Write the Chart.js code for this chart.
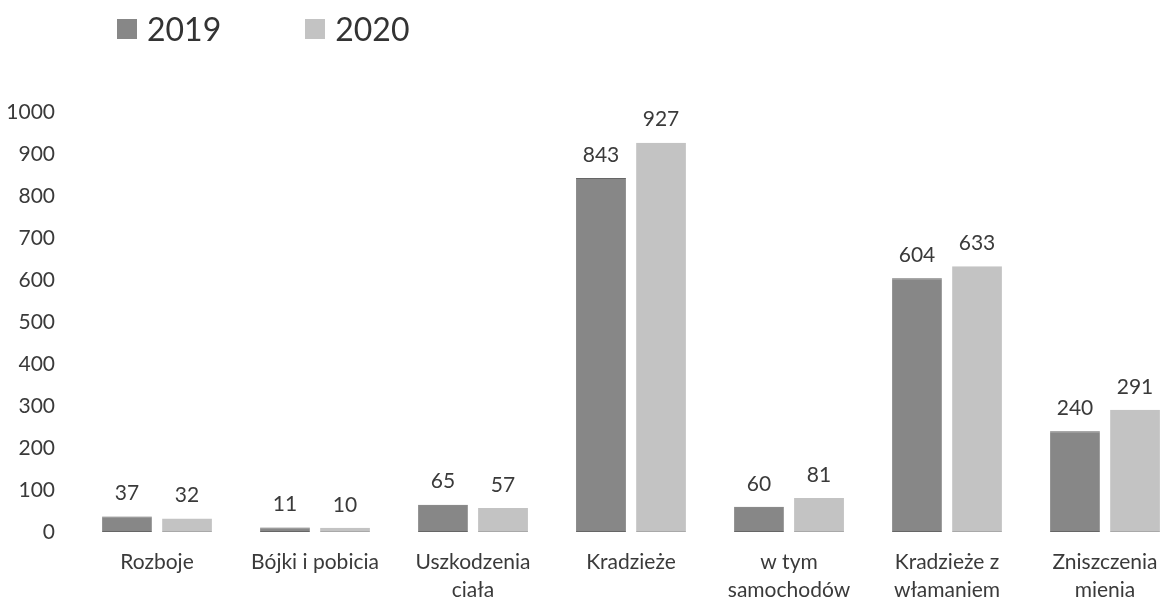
<!DOCTYPE html>
<html>
<head>
<meta charset="utf-8">
<script src="https://cdn.jsdelivr.net/npm/chart.js@4/dist/chart.umd.min.js"></script>
<style>
  html, body { margin: 0; padding: 0; background: #fff; overflow: hidden; }
  #wrap { position: relative; width: 1190px; height: 603px; }
  #legend { position: absolute; left: 117px; top: 9px; display: flex; font-family: Lato, "Open Sans", sans-serif; font-size: 32px; color: #333; }
  #legend .item { display: flex; align-items: center; margin-right: 84px; }
  #legend .box { width: 20px; height: 20px; margin-right: 10px; }
</style>
</head>
<body>
<div id="wrap">
  <div id="legend"></div>
  <canvas id="chart" width="1190" height="603"></canvas>
</div>
<script>
// DATA
const categories = [
	"Rozboje",
	"Bójki i pobicia",
	["Uszkodzenia", "ciała"],
	"Kradzieże",
	["w tym", "samochodów"],
	["Kradzieże z", "włamaniem"],
	["Zniszczenia", "mienia"]
];
const series_labels = ["2019", "2020"];
const values_2019 = [37, 11, 65, 843, 60, 604, 240];
const values_2020 = [32, 10, 57, 927, 81, 633, 291];
const y_ticks = [0, 100, 200, 300, 400, 500, 600, 700, 800, 900, 1000];

const FONT = 'Lato, "Open Sans", sans-serif';
const TEXT = '#3a3a3a';

// VALUE LABELS ABOVE BARS
const valueLabels = {
	id: 'valueLabels',
	afterDatasetsDraw(chart){
		const ctx = chart.ctx;
		ctx.save();
		ctx.font = '21px ' + FONT;
		ctx.fillStyle = TEXT;
		ctx.textAlign = 'center';
		ctx.textBaseline = 'middle';
		chart.data.datasets.forEach((ds, i) => {
			chart.getDatasetMeta(i).data.forEach((bar, j) => {
				ctx.fillText(ds.data[j], bar.x, bar.y - 23);
			});
		});
		ctx.restore();
	}
};

const ctx = document.getElementById("chart").getContext("2d");

const my_chart = new Chart(ctx, {
	type: 'bar',
	data: {
		labels: categories,
		datasets: [{
			label: series_labels[0],
			data: values_2019,
			backgroundColor: '#878787',
			borderColor: '#666',
			borderWidth: {top: 1, bottom: 1},
			borderSkipped: false
		},{
			label: series_labels[1],
			data: values_2020,
			backgroundColor: '#c3c3c3',
			borderColor: '#a9a9a9',
			borderWidth: {top: 0, bottom: 1},
			borderSkipped: false
		}]
	},
	options: {
		responsive: false,
		animation: false,
		categoryPercentage: 0.76,
		barPercentage: 0.83,
		layout: { padding: { top: 112, right: 6, left: 0, bottom: 0 } },
		plugins: {
			legend: { display: false },
			tooltip: { enabled: false }
		},
		scales: {
			x: {
				grid: { display: false, drawTicks: false },
				border: { display: false },
				ticks: { color: TEXT, font: { family: FONT, size: 21, lineHeight: 1.3 }, padding: 17, maxRotation: 0, autoSkip: false },
				afterFit(scale){ scale.height = 71; }
			},
			y: {
				min: 0,
				max: 1000,
				grid: { display: false, drawTicks: false },
				border: { display: false },
				afterBuildTicks(scale){ scale.ticks = y_ticks.map(v => ({ value: v })); },
				ticks: { color: TEXT, font: { family: FONT, size: 21 }, padding: 23, callback: v => String(v) },
				afterFit(scale){ scale.width = 78; }
			}
		}
	},
	plugins: [valueLabels]
});

// LEGEND (built from the chart's own legend items)
const legend_el = document.getElementById("legend");
Chart.defaults.plugins.legend.labels.generateLabels(my_chart).forEach(item => {
	const div = document.createElement("div");
	div.className = "item";
	div.innerHTML = `<span class="box" style="background:${item.fillStyle}"></span><span>${item.text}</span>`;
	legend_el.appendChild(div);
});
</script>
</body>
</html>
